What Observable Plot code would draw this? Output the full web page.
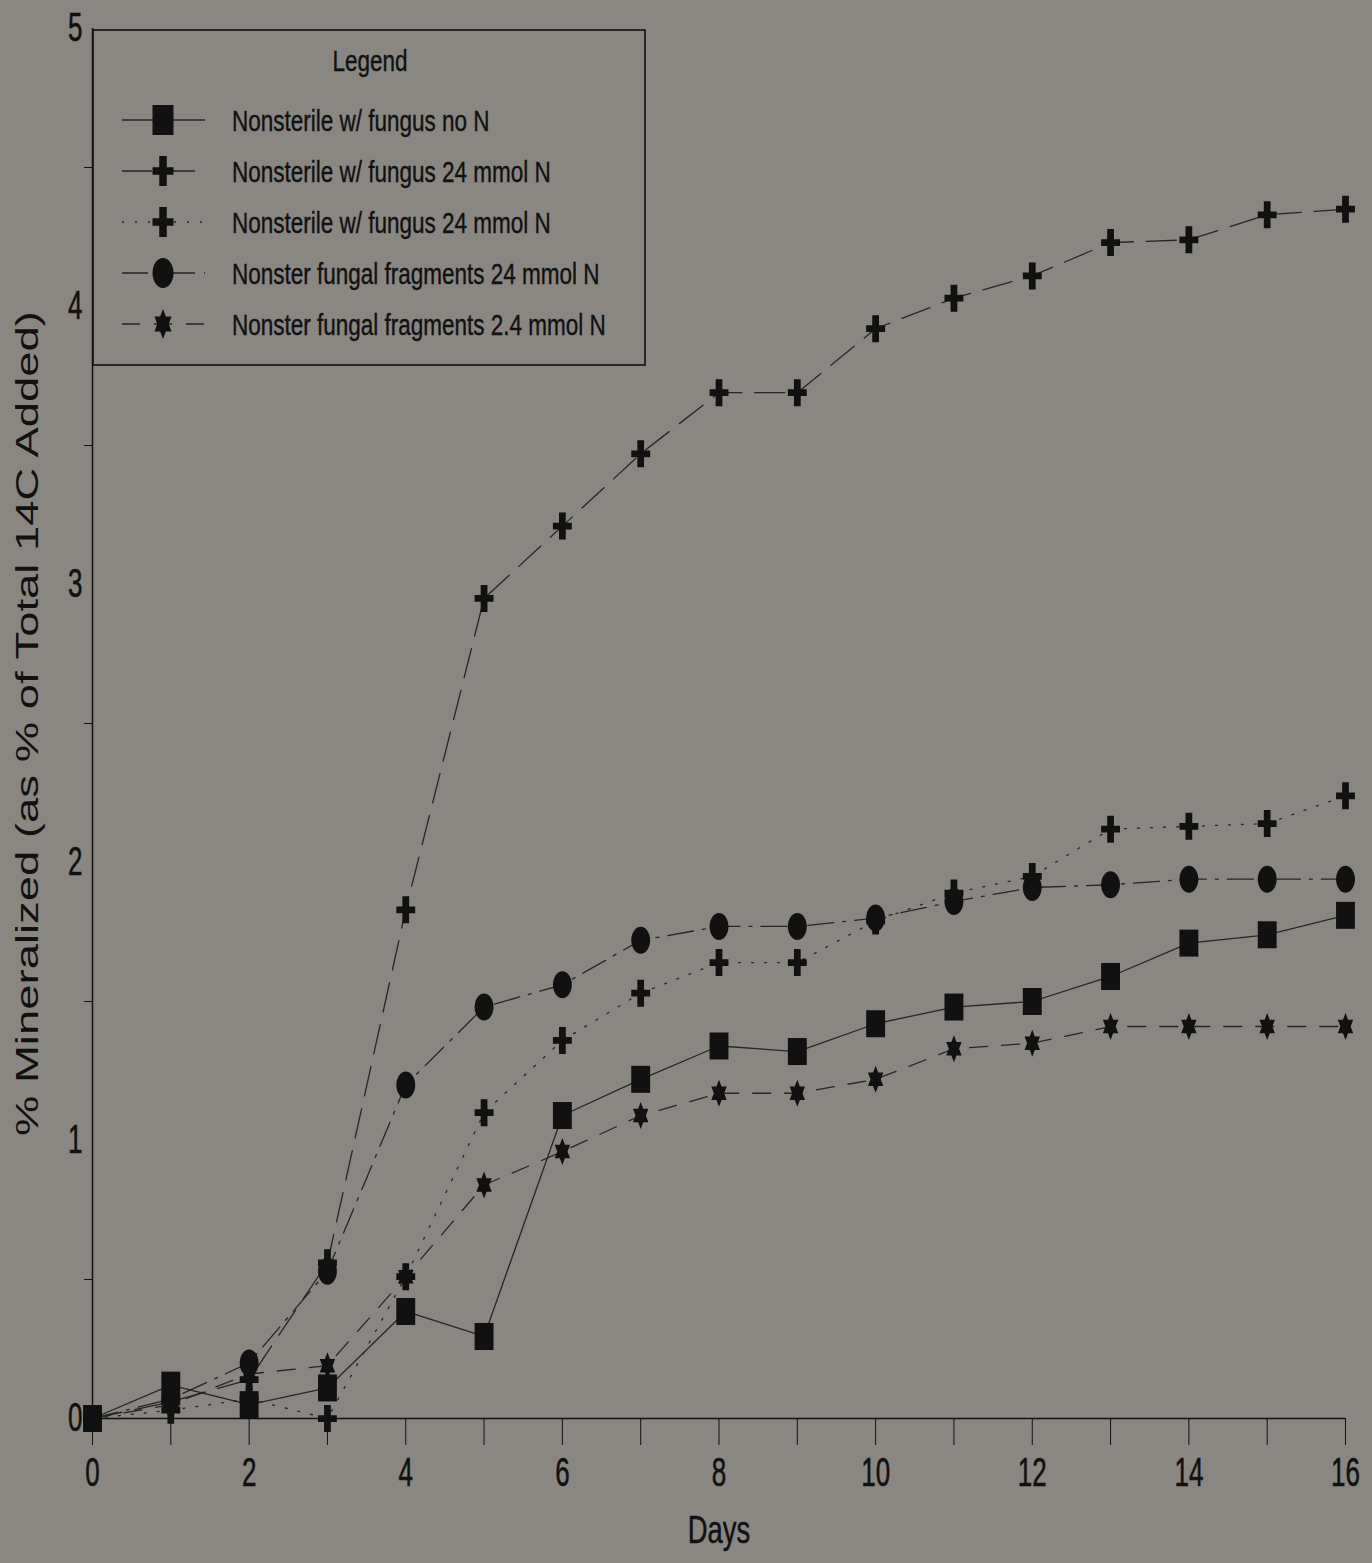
<!DOCTYPE html>
<html><head><meta charset="utf-8">
<script src="https://cdn.jsdelivr.net/npm/d3@7"></script>
<script src="https://cdn.jsdelivr.net/npm/@observablehq/plot@0.6"></script>
<style>
html,body{margin:0;padding:0;background:#8a8782;}
#chart{position:relative;width:1372px;height:1563px;}
</style></head><body><div id="chart"></div>
<script>
// ---------- data ----------
const days = [0,1,2,3,4,5,6,7,8,9,10,11,12,13,14,15,16];
const seriesNames = [
  "Nonsterile w/ fungus no N",
  "Nonsterile w/ fungus 24 mmol N",
  "Nonsterile w/ fungus 24 mmol N",
  "Nonster fungal fragments 24 mmol N",
  "Nonster fungal fragments 2.4 mmol N"
];
const noN      = [0, 0.12, 0.05, 0.11, 0.385, 0.295, 1.09, 1.22, 1.34, 1.32, 1.42, 1.48, 1.50, 1.59, 1.71, 1.74, 1.81];
const fungus24a = [0, 0.06, 0.14, 0.56, 1.83, 2.95, 3.21, 3.47, 3.69, 3.69, 3.92, 4.03, 4.11, 4.23, 4.24, 4.33, 4.35];
const fungus24b = [0, 0.03, 0.07, 0.00, 0.51, 1.10, 1.36, 1.53, 1.64, 1.64, 1.79, 1.89, 1.95, 2.12, 2.13, 2.14, 2.24];
const frag24   = [0, 0.07, 0.20, 0.53, 1.20, 1.48, 1.56, 1.72, 1.77, 1.77, 1.80, 1.86, 1.91, 1.92, 1.94, 1.94, 1.94];
const frag2_4  = [0, 0.05, 0.16, 0.19, 0.51, 0.84, 0.96, 1.09, 1.17, 1.17, 1.22, 1.33, 1.35, 1.41, 1.41, 1.41, 1.41];
const xTicks = days;
const yLabelTicks = [0,1,2,3,4,5];
const yMinorTicks = [0.5,1.5,2.5,3.5,4.5];
const xLabel = "Days";
const yLabel = "% Mineralized (as % of Total 14C Added)";
const legendTitle = "Legend";

// ---------- symbols ----------
function ellipsePath(ctx, rx, ry){
  const k = 0.5523;
  ctx.moveTo(rx,0);
  ctx.bezierCurveTo(rx, ry*k, rx*k, ry, 0, ry);
  ctx.bezierCurveTo(-rx*k, ry, -rx, ry*k, -rx, 0);
  ctx.bezierCurveTo(-rx, -ry*k, -rx*k, -ry, 0, -ry);
  ctx.bezierCurveTo(rx*k, -ry, rx, -ry*k, rx, 0);
  ctx.closePath();
}
const rad = s => Math.sqrt(s/Math.PI);
const symRect = {draw(ctx,size){const r=rad(size), w=r*0.7; ctx.rect(-w,-r,2*w,2*r);}};
const symPlus = {draw(ctx,size){const r=rad(size), w=r*0.7, t=r*0.25;
  ctx.moveTo(-t,-r);ctx.lineTo(t,-r);ctx.lineTo(t,-t);ctx.lineTo(w,-t);ctx.lineTo(w,t);ctx.lineTo(t,t);
  ctx.lineTo(t,r);ctx.lineTo(-t,r);ctx.lineTo(-t,t);ctx.lineTo(-w,t);ctx.lineTo(-w,-t);ctx.lineTo(-t,-t);ctx.closePath();}};
const symEllipse = {draw(ctx,size){const r=rad(size); ellipsePath(ctx, r*0.7, r);}};
const symStar = {draw(ctx,size){const r=rad(size), ri=r/Math.sqrt(3);
  for(let i=0;i<12;i++){const a=-Math.PI/2+i*Math.PI/6, rr=i%2?ri:r, x=Math.cos(a)*rr*0.66, y=Math.sin(a)*rr; i?ctx.lineTo(x,y):ctx.moveTo(x,y);} ctx.closePath();}};

const series = [
  {name: seriesNames[0], values: noN,       symbol: symRect,    dash: null},
  {name: seriesNames[1], values: fungus24a, symbol: symPlus,    dash: "30,13"},
  {name: seriesNames[2], values: fungus24b, symbol: symPlus,    dash: "2,11"},
  {name: seriesNames[3], values: frag24,    symbol: symEllipse, dash: "26,9,3,9"},
  {name: seriesNames[4], values: frag2_4,   symbol: symStar,    dash: "18,14"}
];
const tables = series.map(s => days.map((d,i) => ({day: d, value: s.values[i], name: s.name})));

const BG = "#8a8782", LINE = "#262626", INK = "#111";
const R = 13.5;

const marks = [];
marks.push(Plot.ruleY([0], {stroke: INK, strokeWidth: 1.5}));
marks.push(Plot.ruleX([0], {stroke: INK, strokeWidth: 1.5}));
marks.push(Plot.axisX({ticks: xTicks, tickSize: 27, tickPadding: 12, tickFormat: d => d % 2 ? "" : String(d), fontSize: 40, stroke: INK, fill: INK, label: null}));
marks.push(Plot.axisY({ticks: yLabelTicks, tickSize: 0, tickPadding: 10, tickFormat: d => String(d), fontSize: 40, fill: INK, label: null}));
marks.push(Plot.axisY({ticks: yMinorTicks, tickSize: 8, tickFormat: () => "", stroke: INK, label: null}));
marks.push(Plot.text([xLabel], {frameAnchor: "bottom", dy: 124, fontSize: 38, fill: INK}));
marks.push(Plot.text([yLabel], {frameAnchor: "left", textAnchor: "middle", rotate: -90, dx: -64, fontSize: 31, fill: INK}));
series.forEach((s,k) => {
  marks.push(Plot.line(tables[k], {x: "day", y: "value", stroke: LINE, strokeWidth: 1.3,
    strokeDasharray: s.dash || undefined}));
});
[4,0,3,2,1].forEach(k => {
  marks.push(Plot.dot(tables[k], {x: "day", y: "value", symbol: series[k].symbol, r: R, fill: INK, stroke: "none"}));
});

const plot = Plot.plot({
  width: 1372, height: 1563,
  marginLeft: 92, marginRight: 27, marginTop: 28, marginBottom: 145,
  x: {domain: [0,16]},
  y: {domain: [0,5]},
  style: {background: BG, fontFamily: "'Liberation Sans', Arial, sans-serif", overflow: "visible"},
  marks
});
document.getElementById("chart").appendChild(plot);

function squeezeEl(el, sx){
  let t = el.getAttribute("transform") || "";
  if (el.hasAttribute("x")) { t += ` translate(${el.getAttribute("x")},0)`; el.removeAttribute("x"); }
  el.setAttribute("transform", (t + ` scale(${sx},1)`).trim());
}
plot.querySelectorAll('g[aria-label="x-axis tick label"] text, g[aria-label="y-axis tick label"] text')
  .forEach(el => { squeezeEl(el, 0.65); el.setAttribute("stroke", INK); el.setAttribute("stroke-width", 0.6); });
plot.querySelectorAll('text').forEach(el => {
  if (el.textContent === xLabel) { squeezeEl(el, 0.72); el.setAttribute("stroke", INK); el.setAttribute("stroke-width", 0.5); }
  if (el.textContent === yLabel) {
    el.setAttribute("textLength", 825);
    el.setAttribute("lengthAdjust", "spacingAndGlyphs");
  }
});

// ---------- legend (inside the frame, top-left) ----------
const svg = d3.select(plot);
const lg = svg.append("g").attr("font-family", "'Liberation Sans', Arial, sans-serif").attr("text-anchor", "start");
const box = {x: 93, y: 30, w: 552, h: 335};
lg.append("rect").attr("x", box.x).attr("y", box.y).attr("width", box.w).attr("height", box.h)
  .attr("fill", BG).attr("stroke", INK).attr("stroke-width", 1.6);
lg.append("text").attr("transform", `translate(${box.x + 277},${box.y + 30}) scale(0.75,1)`)
  .attr("text-anchor", "middle").attr("dy", "0.35em").attr("font-size", 30).attr("fill", INK)
  .attr("stroke", INK).attr("stroke-width", 0.4).text(legendTitle);
series.forEach((s,k) => {
  const cy = box.y + 90 + k * 51;
  lg.append("line").attr("x1", box.x + 29).attr("x2", box.x + 112).attr("y1", cy).attr("y2", cy)
    .attr("stroke", LINE).attr("stroke-width", 1.3).attr("stroke-dasharray", s.dash || null);
  lg.append("path").attr("transform", `translate(${box.x + 70},${cy})`)
    .attr("d", d3.symbol(s.symbol, 15*15*Math.PI)()).attr("fill", INK);
  lg.append("text").attr("transform", `translate(${box.x + 139},${cy}) scale(0.75,1)`)
    .attr("text-anchor", "start").attr("dy", "0.35em").attr("font-size", 30).attr("fill", INK)
    .attr("stroke", INK).attr("stroke-width", 0.4).text(s.name);
});
</script></body></html>
